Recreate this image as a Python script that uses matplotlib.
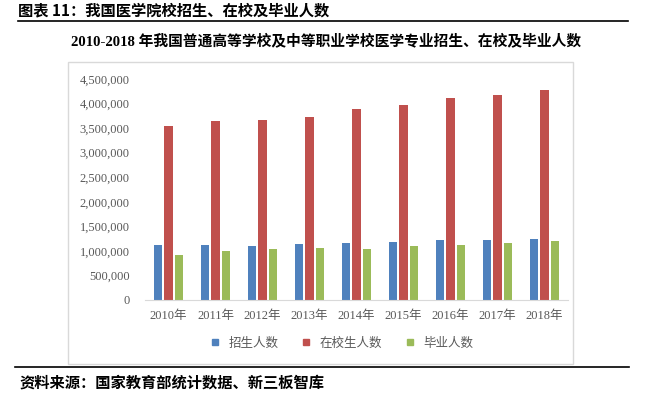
import matplotlib
matplotlib.use("Agg")
import matplotlib.pyplot as plt
from matplotlib.patches import Rectangle
from matplotlib.lines import Line2D
from matplotlib.ticker import FuncFormatter
import numpy as np

plt.rcParams['font.family'] = ['Liberation Serif', 'Noto Sans CJK SC', 'DejaVu Sans']

years = ["2010年", "2011年", "2012年", "2013年", "2014年", "2015年", "2016年", "2017年", "2018年"]
series_names = ["招生人数", "在校生人数", "毕业人数"]
enroll = [1119000, 1119000, 1099000, 1146000, 1167000, 1174000, 1228000, 1228000, 1248000]
students = [3548000, 3650000, 3663000, 3731000, 3894000, 3962000, 4111000, 4179000, 4274000]
graduates = [916000, 1004000, 1045000, 1051000, 1031000, 1092000, 1119000, 1167000, 1208000]
yticks = [0, 500000, 1000000, 1500000, 2000000, 2500000, 3000000, 3500000, 4000000, 4500000]

colors = ["#4F81BD", "#C0504D", "#9BBB59"]
W, H = 653, 394
fig = plt.figure(figsize=(W / 100, H / 100), dpi=100)

cjk = ['Noto Sans CJK SC', 'DejaVu Sans']
# header
fig.text(18 / W, 1 - 10 / H, "图表 11：我国医学院校招生、在校及毕业人数", fontsize=11,
         fontweight='bold', family=cjk, va='center', ha='left', color='black')
fig.add_artist(Line2D([18 / W, 628 / W], [1 - 21 / H, 1 - 21 / H], color='black', lw=1.2))
# footer
fig.add_artist(Line2D([15 / W, 629 / W], [1 - 367 / H, 1 - 367 / H], color='black', lw=1.2))
fig.text(20 / W, 1 - 383 / H, "资料来源：国家教育部统计数据、新三板智库", fontsize=11,
         fontweight='bold', family=cjk, va='center', ha='left', color='black')

# chart box
fig.add_artist(Rectangle((68 / W, 1 - 364 / H), (573 - 68) / W, (364 - 62) / H,
                         transform=fig.transFigure, fill=False, edgecolor='#d9d9d9', lw=1))
fig.text(326 / W, 1 - 41 / H, "2010-2018 年我国普通高等学校及中等职业学校医学专业招生、在校及毕业人数",
         fontsize=10.6, fontweight='bold', family=['Liberation Serif', 'Noto Sans CJK SC'],
         va='center', ha='center', color='black')

ax = fig.add_axes([145 / W, 1 - 300 / H, 423 / W, 221 / H])
x = np.arange(len(years))
bw = 0.18
step = 0.225
for i, (vals, c) in enumerate(zip([enroll, students, graduates], colors)):
    ax.bar(x + (i - 1) * step, vals, width=bw, color=c, label=series_names[i], zorder=2)

ax.set_xlim(-0.5, len(years) - 0.5)
ax.set_ylim(0, 4500000)
ax.set_yticks(yticks)
ax.yaxis.set_major_formatter(FuncFormatter(lambda v, p: f"{int(v):,}"))
ax.set_xticks(x)
ax.set_xticklabels(years)
for s in ['top', 'right', 'left']:
    ax.spines[s].set_visible(False)
ax.spines['bottom'].set_color('#d9d9d9')
ax.tick_params(axis='both', length=0, colors='#595959', labelsize=9)
ax.tick_params(axis='y', pad=11)
ax.tick_params(axis='x', pad=7)
for lab in ax.get_xticklabels() + ax.get_yticklabels():
    lab.set_family(['Liberation Serif', 'Noto Sans CJK SC'])

handles = [Line2D([], [], marker='s', linestyle='none', color=c, markersize=5) for c in colors]
leg = fig.legend(handles, series_names, loc='center', bbox_to_anchor=(338 / W, 1 - 343 / H),
                 ncol=3, frameon=False, handletextpad=0.1, columnspacing=1.2,
                 prop={'family': cjk, 'size': 9})
for t in leg.get_texts():
    t.set_color('#595959')

fig.savefig("out.png", dpi=100)
